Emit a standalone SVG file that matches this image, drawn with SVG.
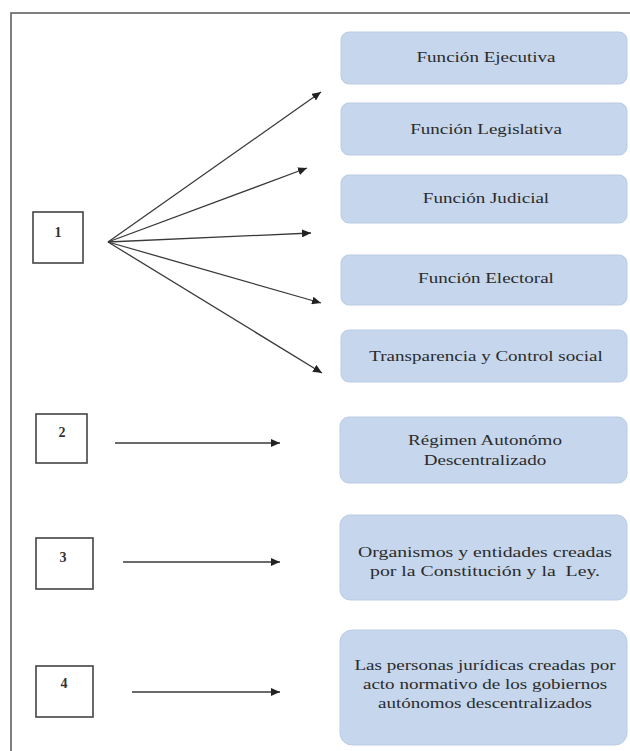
<svg xmlns="http://www.w3.org/2000/svg" width="630" height="751" viewBox="0 0 630 751">
<style>
.frame{fill:none;stroke:#555;stroke-width:1.5}
.blue{fill:#c6d6ec;stroke:#b9cbe3;stroke-width:1}
.num{fill:#fff;stroke:#444;stroke-width:1.6}
.nt{font-family:"Liberation Serif","Times New Roman",serif;font-size:14px;font-weight:bold;fill:#333;text-anchor:middle}
.bt{font-family:"Liberation Serif","Times New Roman",serif;font-size:15px;fill:#2b2b2b;text-anchor:middle;white-space:pre}
.ln{fill:none;stroke:#3a3a3a;stroke-width:1.3}
</style>
<defs>
<marker id="ah" markerUnits="userSpaceOnUse" markerWidth="10" markerHeight="8" refX="9" refY="4" orient="auto">
<path d="M0,0 L9,4 L0,8 z" fill="#222"/>
</marker>
</defs>
<rect width="630" height="751" fill="#fff"/>
<path class="frame" d="M11,751 V13 H630"/>

<g id="n-ejecutiva"><rect class="blue" x="341" y="32" width="286" height="52" rx="8"/>
<g transform="translate(486 0) scale(1.27 1)"><text class="bt" x="0" y="62">Función Ejecutiva</text></g></g>
<g id="n-legislativa"><rect class="blue" x="341" y="103" width="286" height="52" rx="8"/>
<g transform="translate(486 0) scale(1.27 1)"><text class="bt" x="0" y="134">Función Legislativa</text></g></g>
<g id="n-judicial"><rect class="blue" x="341" y="175" width="286" height="48" rx="8"/>
<g transform="translate(486 0) scale(1.27 1)"><text class="bt" x="0" y="203">Función Judicial</text></g></g>
<g id="n-electoral"><rect class="blue" x="341" y="255" width="286" height="50" rx="8"/>
<g transform="translate(486 0) scale(1.27 1)"><text class="bt" x="0" y="283">Función Electoral</text></g></g>
<g id="n-transparencia"><rect class="blue" x="341" y="330" width="286" height="52" rx="8"/>
<g transform="translate(486 0) scale(1.27 1)"><text class="bt" x="0" y="361">Transparencia y Control social</text></g></g>
<g id="n-regimen"><rect class="blue" x="340" y="417" width="287" height="66" rx="9"/>
<g transform="translate(485 0) scale(1.27 1)"><text class="bt" x="0" y="445">Régimen Autonómo</text><text class="bt" x="0" y="465">Descentralizado</text></g></g>
<g id="n-organismos"><rect class="blue" x="340" y="515" width="287" height="85" rx="10"/>
<g transform="translate(485 0) scale(1.32 1)"><text class="bt" x="0" y="557">Organismos y entidades creadas</text><text class="bt" x="0" y="576">por la Constitución y la  Ley.</text></g></g>
<g id="n-personas"><rect class="blue" x="340" y="630" width="287" height="115" rx="12"/>
<g transform="translate(485 0) scale(1.27 1)"><text class="bt" x="0" y="670">Las personas jurídicas creadas por</text><text class="bt" x="0" y="689">acto normativo de los gobiernos</text><text class="bt" x="0" y="708">autónomos descentralizados</text></g></g>

<g id="n-1"><rect class="num" x="33" y="212" width="50" height="51"/><text class="nt" x="58" y="237">1</text></g>
<g id="n-2"><rect class="num" x="36" y="414" width="51" height="49"/><text class="nt" x="62" y="437">2</text></g>
<g id="n-3"><rect class="num" x="36" y="538" width="57" height="51"/><text class="nt" x="63" y="562">3</text></g>
<g id="n-4"><rect class="num" x="36" y="666" width="57" height="51"/><text class="nt" x="64" y="688">4</text></g>

<g id="connectors">
<line class="ln" x1="108" y1="242" x2="321" y2="92" marker-end="url(#ah)"/>
<line class="ln" x1="108" y1="242" x2="307" y2="168" marker-end="url(#ah)"/>
<line class="ln" x1="108" y1="242" x2="311" y2="233" marker-end="url(#ah)"/>
<line class="ln" x1="108" y1="242" x2="321" y2="303" marker-end="url(#ah)"/>
<line class="ln" x1="108" y1="242" x2="322" y2="373" marker-end="url(#ah)"/>
<line class="ln" x1="115" y1="443" x2="280" y2="443" marker-end="url(#ah)"/>
<line class="ln" x1="123" y1="562" x2="280" y2="562" marker-end="url(#ah)"/>
<line class="ln" x1="132" y1="692" x2="280" y2="692" marker-end="url(#ah)"/>
</g>
</svg>
